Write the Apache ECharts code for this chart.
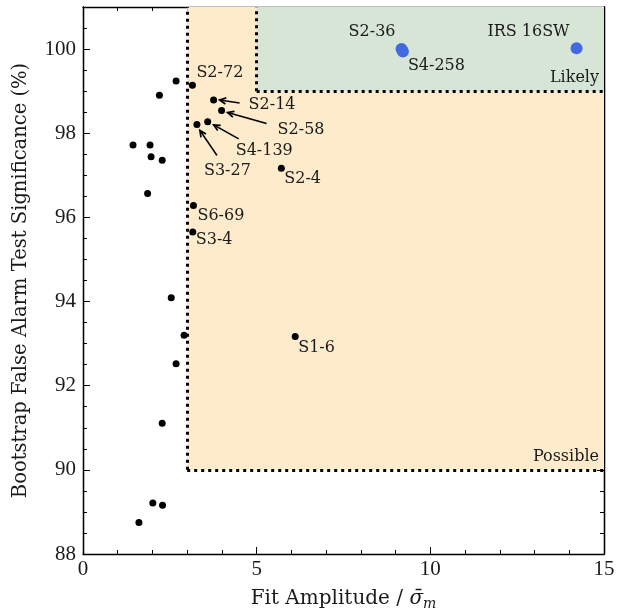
<!DOCTYPE html>
<html><head><meta charset="utf-8">
<script src="https://cdn.jsdelivr.net/npm/echarts@6/dist/echarts.min.js"></script>
<style>html,body{margin:0;padding:0;background:#fff}#c{width:617px;height:613px}</style>
</head><body><div id="c"></div>
<script>
// ---- data ----
const candX = [3.15, 2.68, 2.20, 3.76, 3.99, 3.59, 3.28, 1.44, 1.93, 1.96, 2.28, 5.71, 1.86, 3.18, 3.16, 2.54, 2.91, 6.11, 2.68, 2.28, 2.01, 2.29, 1.61];
const candY = [99.14, 99.24, 98.90, 98.79, 98.54, 98.27, 98.21, 97.72, 97.72, 97.44, 97.36, 97.17, 96.57, 96.28, 95.65, 94.09, 93.20, 93.17, 92.52, 91.11, 89.21, 89.16, 88.75];
const candNames = ['S2-72', '', '', 'S2-14', 'S2-58', 'S4-139', 'S3-27', '', '', '', '', 'S2-4', '', 'S6-69', 'S3-4', '', '', 'S1-6', '', '', '', '', ''];
const likelyX = [9.17, 9.21, 14.21];
const likelyY = [100.00, 99.94, 100.02];
const likelyNames = ['S2-36', 'S4-258', 'IRS 16SW'];
const xRange = [0, 15];
const yRange = [88, 101];
const possibleCorner = [3, 90];
const likelyCorner = [5, 99];
const regionNames = ['Possible', 'Likely'];

// ---- styles (pixel offsets for labels / arrows) ----
const TICKFONT = '"Liberation Serif", serif';
const FONT = '"DejaVu Serif", serif';
const labelStyle = {
  'S2-72':   {dx: 4, dy: -12, align: 'left'},
  'S2-14':   {dx: 35, dy: 5, align: 'left', arrow: {tail: [26, 3], tip: [6, 0]}},
  'S2-58':   {dx: 56, dy: 19, align: 'left', arrow: {tail: [45, 13], tip: [6, 2]}},
  'S4-139':  {dx: 28, dy: 29, align: 'left', arrow: {tail: [31, 17], tip: [6, 3]}},
  'S3-27':   {dx: 7, dy: 46, align: 'left', arrow: {tail: [20, 31], tip: [3, 6]}},
  'S2-4':    {dx: 3, dy: 11, align: 'left'},
  'S6-69':   {dx: 4, dy: 10, align: 'left'},
  'S3-4':    {dx: 3, dy: 8, align: 'left'},
  'S1-6':    {dx: 3, dy: 11, align: 'left'},
  'S2-36':   {dx: -6, dy: -17, align: 'right'},
  'S4-258':  {dx: 5, dy: 14, align: 'left'},
  'IRS 16SW':{dx: -7, dy: -16, align: 'right'}
};

function makeItem(x, y, name) {
  const item = {value: [x, y], name: name};
  const st = labelStyle[name];
  if (name && st) {
    item.label = {show: true, formatter: name, position: 'inside', align: st.align,
      verticalAlign: 'middle', offset: [st.dx, st.dy]};
  }
  return item;
}
const candData = candX.map((x, i) => makeItem(x, candY[i], candNames[i]));
const likelyData = likelyX.map((x, i) => makeItem(x, likelyY[i], likelyNames[i]));

const labelText = {fontFamily: FONT, fontSize: 16, color: '#1a1a1a'};
const axisLineStyle = {color: '#000', width: 1.3};

function xAx(pos) {
  return {
    type: 'value', position: pos, min: xRange[0], max: xRange[1], interval: 5,
    axisLine: {show: true, lineStyle: axisLineStyle},
    axisTick: {show: true, inside: true, length: 7, lineStyle: {color: '#000', width: 1}},
    minorTick: {show: true, splitNumber: 5, length: 4, lineStyle: {color: '#000', width: 1}},
    splitLine: {show: false}, minorSplitLine: {show: false},
    axisLabel: pos === 'bottom' ? {show: true, fontFamily: TICKFONT, fontSize: 21, color: '#1a1a1a', margin: 5} : {show: false},
    name: pos === 'bottom' ? 'Fit Amplitude / {s|σ̄}{m|m}' : '',
    nameLocation: 'middle', nameGap: 32,
    nameTextStyle: {fontFamily: FONT, fontSize: 20, color: '#1a1a1a',
      rich: {s: {fontFamily: FONT, fontSize: 20, fontStyle: 'italic', color: '#1a1a1a'},
             m: {fontFamily: FONT, fontSize: 14, fontStyle: 'italic', color: '#1a1a1a', padding: [11, 0, 0, 0]}}}
  };
}
function yAx(pos, major) {
  return {
    type: 'value', position: pos, min: yRange[0], max: yRange[1], interval: major ? 2 : 0.5,
    axisLine: {show: true, lineStyle: axisLineStyle},
    axisTick: {show: true, inside: true, length: major ? 7 : 4, lineStyle: {color: '#000', width: 1}},
    splitLine: {show: false},
    axisLabel: (pos === 'left' && major) ? {show: true, fontFamily: TICKFONT, fontSize: 21, color: '#1a1a1a', margin: 7, showMaxLabel: false} : {show: false},
    name: (pos === 'left' && major) ? 'Bootstrap False Alarm Test Significance (%)' : '',
    nameLocation: 'middle', nameGap: 52,
    nameTextStyle: {fontFamily: FONT, fontSize: 19.5, color: '#1a1a1a'}
  };
}

const chart = echarts.init(document.getElementById('c'), null, {renderer: 'canvas'});
const dotLine = {color: '#000', width: 3, type: [3, 4], cap: 'butt'};
const option = {
  animation: false,
  backgroundColor: '#fff',
  grid: {left: 83, right: 13, top: 7, bottom: 59, containLabel: false, outerBoundsMode: 'none'},
  xAxis: [xAx('bottom'), xAx('top')],
  yAxis: [yAx('left', true), yAx('left', false), yAx('right', true), yAx('right', false)],
  series: [
    {
      type: 'scatter', xAxisIndex: 0, yAxisIndex: 0, data: [], silent: true,
      markArea: {
        silent: true,
        data: [
          [{coord: possibleCorner, name: regionNames[0], itemStyle: {color: '#FEEBCB', opacity: 1},
            label: {show: true, position: 'insideBottomRight', distance: 5, ...labelText}},
           {coord: [xRange[1], yRange[1]]}],
          [{coord: likelyCorner, name: regionNames[1], itemStyle: {color: '#D6E5D5', opacity: 1},
            label: {show: true, position: 'insideBottomRight', distance: 5, ...labelText}},
           {coord: [xRange[1], yRange[1]]}]
        ]
      },
      markLine: {
        silent: true, symbol: ['none', 'none'], label: {show: false}, lineStyle: dotLine,
        data: [
          [{coord: possibleCorner}, {coord: [possibleCorner[0], yRange[1]]}],
          [{coord: possibleCorner}, {coord: [xRange[1], possibleCorner[1]]}],
          [{coord: likelyCorner}, {coord: [likelyCorner[0], yRange[1]]}],
          [{coord: likelyCorner}, {coord: [xRange[1], likelyCorner[1]]}]
        ]
      }
    },
    {
      type: 'scatter', xAxisIndex: 0, yAxisIndex: 0, data: candData, symbolSize: 7, z: 6,
      itemStyle: {color: '#000', opacity: 1}, label: {show: false, ...labelText}
    },
    {
      type: 'scatter', xAxisIndex: 0, yAxisIndex: 0, data: likelyData, symbolSize: 12, z: 6,
      itemStyle: {color: '#4169E1', opacity: 1}, label: {show: false, ...labelText}
    }
  ]
};
chart.setOption(option);

// arrows for displaced labels
const graphics = [];
candNames.forEach((name, i) => {
  const st = labelStyle[name];
  if (!name || !st || !st.arrow) return;
  const p = chart.convertToPixel({xAxisIndex: 0, yAxisIndex: 0}, [candX[i], candY[i]]);
  const t0 = [p[0] + st.arrow.tail[0], p[1] + st.arrow.tail[1]];
  const t1 = [p[0] + st.arrow.tip[0], p[1] + st.arrow.tip[1]];
  const ang = Math.atan2(t1[1] - t0[1], t1[0] - t0[0]);
  const hl = 7, ha = 0.45;
  const h1 = [t1[0] - hl * Math.cos(ang - ha), t1[1] - hl * Math.sin(ang - ha)];
  const h2 = [t1[0] - hl * Math.cos(ang + ha), t1[1] - hl * Math.sin(ang + ha)];
  graphics.push({type: 'polyline', z: 10, silent: true, shape: {points: [t0, t1]}, style: {stroke: '#000', lineWidth: 1.7, fill: null}});
  graphics.push({type: 'polyline', z: 10, silent: true, shape: {points: [h1, t1, h2]}, style: {stroke: '#000', lineWidth: 1.7, fill: null}});
});
chart.setOption({graphic: graphics});
</script></body></html>
